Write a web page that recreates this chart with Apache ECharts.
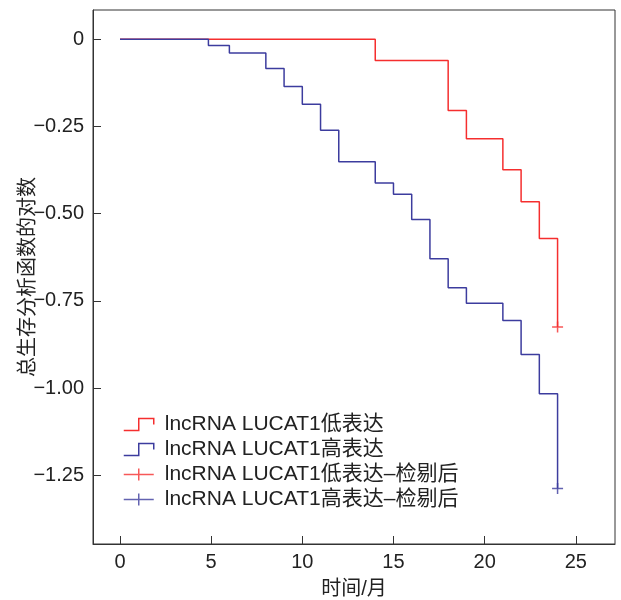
<!DOCTYPE html>
<html>
<head>
<meta charset="utf-8">
<script src="https://cdn.jsdelivr.net/npm/echarts@6/dist/echarts.min.js"></script>
<style>
html,body{margin:0;padding:0;background:#fff;}
#chart{width:621px;height:600px;}
</style>
</head>
<body>
<div id="chart"></div>
<script>
// Data
const seriesNames = ['lncRNA LUCAT1低表达', 'lncRNA LUCAT1高表达', 'lncRNA LUCAT1低表达–检剔后', 'lncRNA LUCAT1高表达–检剔后'];
const lowTimes  = [0, 14, 18, 19, 21, 22, 23, 24];
const lowValues = [0, -0.061, -0.204, -0.285, -0.374, -0.466, -0.571, -0.825];
const highTimes  = [0, 4.85, 6, 8, 9, 10, 11, 12, 14, 15, 16, 17, 18, 19, 21, 22, 23, 24];
const highValues = [0, -0.018, -0.039, -0.084, -0.135, -0.186, -0.261, -0.351, -0.412, -0.444, -0.517, -0.629, -0.712, -0.757, -0.806, -0.904, -1.016, -1.288];
const lowCensorTimes = [24];
const lowCensorValues = [-0.825];
const highCensorTimes = [24];
const highCensorValues = [-1.288];
const xTicks = [0, 5, 10, 15, 20, 25];
const yTicks = [0, -0.25, -0.5, -0.75, -1.0, -1.25];
const xTitle = '时间/月';
const yTitle = '总生存分析函数的对数';

const RED = '#f52e2e';
const BLUE = '#3c3c9e';
const FONT = "'Liberation Sans', 'Noto Sans CJK SC', sans-serif";
const zip = (a, b) => a.map((v, i) => [v, b[i]]);

const chart = echarts.init(document.getElementById('chart'));
const stepIcon = 'path://M0,12L15,12L15,0L30,0L30,6';
const plusIcon = 'path://M0,6L30,6M15,0L15,12';
const plusSymbol = 'path://M0,5L10,5M5,0L5,10';

chart.setOption({
  animation: false,
  backgroundColor: '#fff',
  grid: { left: 93, top: 10, right: 6, bottom: 56, show: true, borderColor: '#333', borderWidth: 1,
          containLabel: false, outerBoundsMode: 'none' },
  xAxis: {
    type: 'value', min: -1.48, max: 27.15,
    name: xTitle, nameLocation: 'middle', nameGap: 35, nameMoveOverlap: false,
    nameTextStyle: { fontSize: 20, color: '#222', fontFamily: FONT },
    axisLine: { show: true, onZero: false, lineStyle: { color: '#333', width: 1 } },
    axisTick: { show: true, inside: true, length: 8, customValues: xTicks, lineStyle: { color: '#333' } },
    axisLabel: { customValues: xTicks, fontSize: 20, color: '#222', fontFamily: FONT, margin: 8 },
    splitLine: { show: false }
  },
  yAxis: {
    type: 'value', min: -1.447, max: 0.084,
    name: yTitle, nameLocation: 'middle', nameGap: 55, nameRotate: 90, nameMoveOverlap: false,
    nameTextStyle: { fontSize: 20, color: '#222', fontFamily: FONT },
    axisLine: { show: true, onZero: false, lineStyle: { color: '#333', width: 1 } },
    axisTick: { show: true, inside: true, length: 8, customValues: yTicks, lineStyle: { color: '#333' } },
    axisLabel: {
      customValues: yTicks, fontSize: 20, color: '#222', fontFamily: FONT, margin: 9,
      formatter: v => v === 0 ? '0' : v.toFixed(2).replace('-', '−')
    },
    splitLine: { show: false }
  },
  legend: {
    orient: 'vertical', left: 123, top: 414, padding: 0,
    itemWidth: 30, itemHeight: 12, itemGap: 4,
    textStyle: { fontSize: 21, color: '#222', fontFamily: FONT, lineHeight: 21, padding: [0, 0, 0, 6] },
    data: [
      { name: seriesNames[0], icon: stepIcon, itemStyle: { color: 'rgba(0,0,0,0)', borderColor: RED, borderWidth: 1.5 } },
      { name: seriesNames[1], icon: stepIcon, itemStyle: { color: 'rgba(0,0,0,0)', borderColor: BLUE, borderWidth: 1.5 } },
      { name: seriesNames[2], icon: plusIcon, itemStyle: { color: 'rgba(0,0,0,0)', borderColor: RED, borderWidth: 1.5 } },
      { name: seriesNames[3], icon: plusIcon, itemStyle: { color: 'rgba(0,0,0,0)', borderColor: BLUE, borderWidth: 1.5 } }
    ]
  },
  series: [
    { name: seriesNames[0], type: 'line', step: 'end', symbol: 'none', data: zip(lowTimes, lowValues),
      lineStyle: { color: RED, width: 1.5 }, itemStyle: { color: RED } },
    { name: seriesNames[1], type: 'line', step: 'end', symbol: 'none', data: zip(highTimes, highValues),
      lineStyle: { color: BLUE, width: 1.5 }, itemStyle: { color: BLUE } },
    { name: seriesNames[2], type: 'scatter', symbol: plusSymbol, symbolSize: 11, data: zip(lowCensorTimes, lowCensorValues),
      itemStyle: { color: 'rgba(0,0,0,0)', borderColor: RED, borderWidth: 1.5 } },
    { name: seriesNames[3], type: 'scatter', symbol: plusSymbol, symbolSize: 11, data: zip(highCensorTimes, highCensorValues),
      itemStyle: { color: 'rgba(0,0,0,0)', borderColor: BLUE, borderWidth: 1.5 } }
  ]
});
</script>
</body>
</html>
